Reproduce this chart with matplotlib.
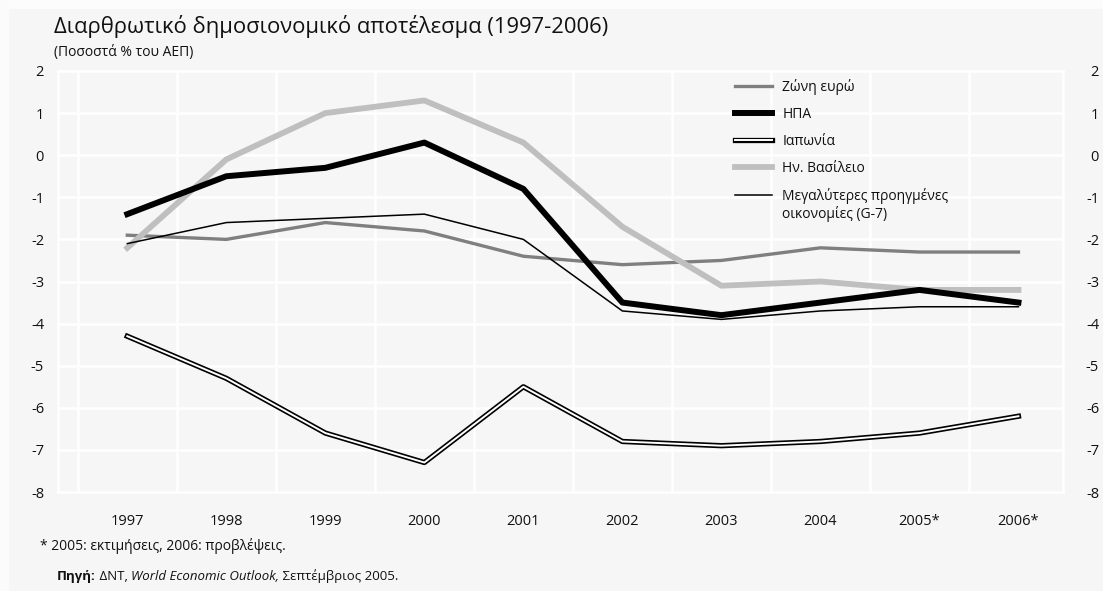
import matplotlib
matplotlib.use("Agg")
import matplotlib.pyplot as plt
import matplotlib.patheffects as pe
from matplotlib.patches import Rectangle

plt.rcParams['font.family'] = ['Open Sans', 'DejaVu Sans']

# Data: structural fiscal balance, % of GDP
years = [1997, 1998, 1999, 2000, 2001, 2002, 2003, 2004, 2005, 2006]
year_labels = ["1997", "1998", "1999", "2000", "2001", "2002", "2003", "2004", "2005*", "2006*"]
euro_area = [-1.9, -2.0, -1.6, -1.8, -2.4, -2.6, -2.5, -2.2, -2.3, -2.3]
usa = [-1.4, -0.5, -0.3, 0.3, -0.8, -3.5, -3.8, -3.5, -3.2, -3.5]
japan = [-4.3, -5.3, -6.6, -7.3, -5.5, -6.8, -6.9, -6.8, -6.6, -6.2]
uk = [-2.2, -0.1, 1.0, 1.3, 0.3, -1.7, -3.1, -3.0, -3.2, -3.2]
g7 = [-2.1, -1.6, -1.5, -1.4, -2.0, -3.7, -3.9, -3.7, -3.6, -3.6]
y_ticks = [2, 1, 0, -1, -2, -3, -4, -5, -6, -7, -8]

BG = "#f6f6f6"
INK = "#111111"
W, H = 1103, 591
fig = plt.figure(figsize=(W / 100, H / 100), dpi=100, facecolor=BG)

# light page margins along top and left
fig.patches.append(Rectangle((0, 1 - 9 / H), 1, 9 / H, transform=fig.transFigure,
                             facecolor="#fcfcfc", edgecolor="none", zorder=0))
fig.patches.append(Rectangle((0, 0), 9 / W, 1, transform=fig.transFigure,
                             facecolor="#fbfbfb", edgecolor="none", zorder=0))

left, right, top, bottom = 58, 1063, 71, 492
ax = fig.add_axes([left / W, 1 - bottom / H, (right - left) / W, (bottom - top) / H])
ax.set_facecolor(BG)
for s in ax.spines.values():
    s.set_visible(False)

x0, x1 = 1996.3, 2006.45
ax.set_xlim(x0, x1)
ax.set_ylim(-8, 2)

# white grid: horizontal at every integer, vertical between years and at the edges
for v in y_ticks:
    ax.axhline(v, color="white", lw=1.8, zorder=1, clip_on=False)
for xv in [x0] + [y - 0.5 for y in years] + [x1]:
    ax.axvline(xv, color="white", lw=1.8, zorder=1, clip_on=False)

ax.plot(years, euro_area, color="#7f7f7f", lw=2.4, label="Ζώνη ευρώ", zorder=3)
ax.plot(years, uk, color="#bfbfbf", lw=4.2, label="Ην. Βασίλειο", zorder=3)
ax.plot(years, usa, color="black", lw=4.3, label="ΗΠΑ", zorder=4)
ax.plot(years, japan, color="white", lw=1.4, label="Ιαπωνία", zorder=4,
        path_effects=[pe.Stroke(linewidth=3.8, foreground="black"), pe.Normal()])
ax.plot(years, g7, color="black", lw=1.1,
        label="Μεγαλύτερες προηγμένες\nοικονομίες (G-7)", zorder=5)

ax.set_xticks(years)
ax.set_xticklabels(year_labels)
ax.set_yticks(y_ticks)
ax.set_yticklabels([str(v) for v in y_ticks])
ax.tick_params(axis="x", length=0, pad=16, labelsize=10.5, colors=INK)
ax.tick_params(axis="y", length=0, pad=10, labelsize=10.5, colors=INK)

ax2 = ax.twinx()
ax2.set_ylim(-8, 2)
ax2.set_yticks(y_ticks)
ax2.set_yticklabels([str(v) for v in y_ticks])
ax2.tick_params(axis="y", length=0, pad=26, labelsize=10.5, colors=INK)
for lbl in ax2.get_yticklabels():
    lbl.set_horizontalalignment("right")
for s in ax2.spines.values():
    s.set_visible(False)

# legend in the requested order
handles, labels = ax.get_legend_handles_labels()
order = ["Ζώνη ευρώ", "ΗΠΑ", "Ιαπωνία", "Ην. Βασίλειο",
         "Μεγαλύτερες προηγμένες\nοικονομίες (G-7)"]
hmap = dict(zip(labels, handles))
leg = ax2.legend([hmap[k] for k in order], order, loc="upper left",
                 bbox_to_anchor=(735 / W, 1 - 79 / H), bbox_transform=fig.transFigure,
                 frameon=False, fontsize=10, handlelength=2.7, handletextpad=0.7,
                 labelspacing=0.86, borderpad=0, borderaxespad=0)
for t in leg.get_texts():
    t.set_color(INK)
# align the two-line entry's handle with its first text line
g7_handle = leg.legend_handles[4]
g7_handle.set_ydata([v + 8 for v in g7_handle.get_ydata()])

# titles
fig.text(54 / W, 1 - 33 / H, "Διαρθρωτικό δημοσιονομικό αποτέλεσμα (1997-2006)",
         fontsize=15.8, va="baseline", ha="left", color=INK)
fig.text(54 / W, 1 - 56 / H, "(Ποσοστά % του ΑΕΠ)", fontsize=10, va="baseline",
         ha="left", color=INK)

# notes
fig.text(40 / W, 1 - 550 / H, "* 2005: εκτιμήσεις, 2006: προβλέψεις.", fontsize=10,
         va="baseline", ha="left", color=INK)
src = fig.text(57 / W, 1 - 580 / H, "Πηγή:", fontsize=9.5, fontweight="bold",
               va="baseline", ha="left", color=INK)
p2 = ax.annotate(" ΔΝΤ, ", xy=(1, 0), xycoords=src, va="bottom", ha="left",
                 fontsize=9.5, color=INK, annotation_clip=False)
p3 = ax.annotate("World Economic Outlook,", xy=(1, 0), xycoords=p2, va="bottom",
                 ha="left", fontsize=9.5, style="italic", color=INK,
                 annotation_clip=False)
ax.annotate(" Σεπτέμβριος 2005.", xy=(1, 0), xycoords=p3, va="bottom", ha="left",
            fontsize=9.5, color=INK, annotation_clip=False)

fig.savefig("out.png", dpi=100, facecolor=BG)
